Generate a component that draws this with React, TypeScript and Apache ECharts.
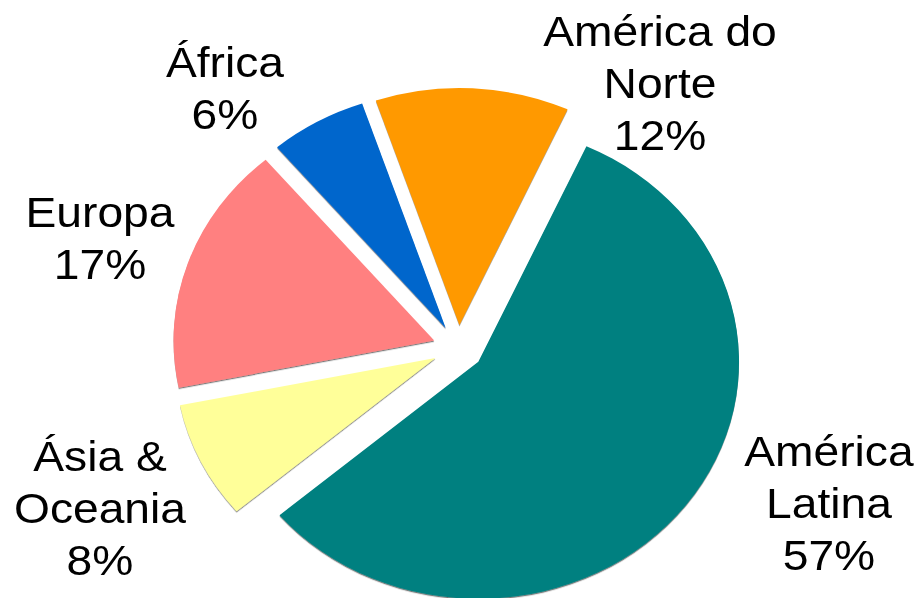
import React, { useEffect, useRef } from 'react';
import * as echarts from 'echarts';

// Data
const categories = ['América Latina', 'Ásia & Oceania', 'Europa', 'África', 'América do Norte'];
const labelTexts = ['América\nLatina', 'Ásia &\nOceania', 'Europa', 'África', 'América do\nNorte'];
const shares = [57, 8, 17, 6, 12];
const colors = ['#008080', '#FFFF99', '#FF8080', '#0066CC', '#FF9900'];
// label block centres (in the chart's own, unstretched pixel space)
const labelCenters: number[][] = [
  [753.6, 503],
  [90.9, 508],
  [90.9, 238.5],
  [204.5, 88.5],
  [600, 83],
];

const STRETCH = 1.1; // reference is drawn horizontally stretched
const W = 919;
const H = 598;

export default function App() {
  const ref = useRef<HTMLDivElement>(null);
  useEffect(() => {
    if (!ref.current) return;
    const chart = echarts.init(ref.current, null, { renderer: 'svg' });
    const common = {
      type: 'pie',
      center: [416.5, 348],
      radius: 237,
      startAngle: 65.5,
      clockwise: true,
      avoidLabelOverlap: false,
      emphasis: { disabled: true },
    };
    chart.setOption({
      animation: false,
      backgroundColor: '#ffffff',
      series: [
        {
          ...common,
          name: 'slices',
          selectedMode: 'multiple',
          selectedOffset: 23,
          itemStyle: {
            shadowColor: 'rgba(0,0,0,0.55)',
            shadowBlur: 1,
            shadowOffsetX: 0,
            shadowOffsetY: 1.2,
          },
          label: { show: false },
          labelLine: { show: false },
          data: categories.map((name, i) => ({
            name,
            value: shares[i],
            selected: true,
            itemStyle: { color: colors[i] },
          })),
        },
        {
          ...common,
          name: 'labels',
          silent: true,
          selectedMode: false,
          itemStyle: { color: 'rgba(0,0,0,0)' },
          label: {
            show: true,
            position: 'outside',
            fontFamily: '"Liberation Sans", Arial, sans-serif',
            fontSize: 42,
            lineHeight: 52,
            color: '#000000',
            align: 'center',
            formatter: (p: any) => `${labelTexts[p.dataIndex]}\n${p.value}%`,
          },
          labelLine: { show: false },
          labelLayout: (p: any) => ({
            x: labelCenters[p.dataIndex][0],
            y: labelCenters[p.dataIndex][1],
            align: 'center',
            verticalAlign: 'middle',
          }),
          data: categories.map((name, i) => ({ name, value: shares[i] })),
        },
      ],
    });
    return () => chart.dispose();
  }, []);
  return (
    <div
      ref={ref}
      style={{
        position: 'absolute',
        left: 0,
        top: 0,
        width: W / STRETCH,
        height: H,
        transform: `scaleX(${STRETCH})`,
        transformOrigin: '0 0',
      }}
    />
  );
}
